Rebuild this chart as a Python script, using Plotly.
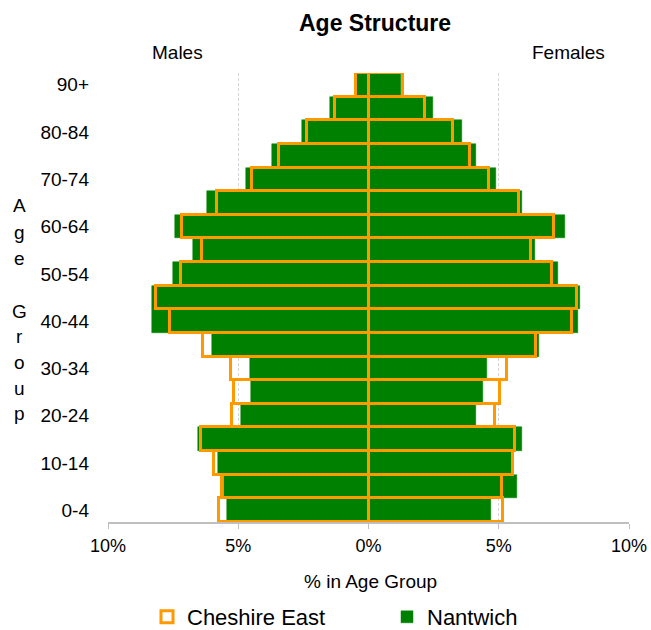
import plotly.graph_objects as go

# ---- data ----
age_groups = ["0-4", "5-9", "10-14", "15-19", "20-24", "25-29", "30-34", "35-39",
              "40-44", "45-49", "50-54", "55-59", "60-64", "65-69", "70-74",
              "75-79", "80-84", "85-89", "90+"]
tick_groups = ["0-4", "10-14", "20-24", "30-34", "40-44", "50-54", "60-64", "70-74", "80-84", "90+"]

nantwich_males = [5.42, 5.54, 5.79, 6.54, 4.91, 4.51, 4.56, 6.02, 8.33, 8.33,
                  7.51, 6.73, 7.41, 6.19, 4.69, 3.69, 2.56, 1.47, 0.45]
nantwich_females = [4.72, 5.69, 5.50, 5.88, 4.13, 4.38, 4.55, 6.53, 8.05, 8.10,
                    7.26, 6.41, 7.54, 5.90, 4.90, 4.13, 3.59, 2.46, 1.25]
cheshire_males = [5.74, 5.62, 5.93, 6.42, 5.23, 5.17, 5.28, 6.36, 7.63, 8.14,
                  7.20, 6.41, 7.15, 5.82, 4.46, 3.43, 2.38, 1.27, 0.49]
cheshire_females = [5.18, 5.13, 5.54, 5.63, 4.85, 5.03, 5.31, 6.44, 7.80, 7.99,
                    7.05, 6.25, 7.12, 5.77, 4.64, 3.91, 3.23, 2.17, 1.33]

x_tickvals = [-10, -5, 0, 5, 10]
x_ticktext = ["10%", "5%", "0%", "5%", "10%"]

GREEN = "#008000"
ORANGE = "#ff9900"
FONT = "Liberation Sans, Arial, sans-serif"

W, H = 651, 630
L, R, T, B = 108, 22, 73, 108


def px_x(x):
    return (x - L) / (W - L - R)


def px_y(y):
    return (H - B - y) / (H - T - B)


fig = go.Figure()

fig.add_trace(go.Bar(y=age_groups, x=[-v for v in nantwich_males], orientation="h",
                     name="Nantwich", legendgroup="n", legendrank=2,
                     marker=dict(color=GREEN, line=dict(color=GREEN, width=0.5)),
                     width=1, customdata=nantwich_males,
                     hovertemplate="Males %{y}: %{customdata}%<extra>Nantwich</extra>"))
fig.add_trace(go.Bar(y=age_groups, x=nantwich_females, orientation="h",
                     name="Nantwich", legendgroup="n", showlegend=False,
                     marker=dict(color=GREEN, line=dict(color=GREEN, width=0.5)),
                     width=1,
                     hovertemplate="Females %{y}: %{x}%<extra>Nantwich</extra>"))
fig.add_trace(go.Bar(y=age_groups, x=[-v for v in cheshire_males], orientation="h",
                     name="Cheshire East", legendgroup="c", legendrank=1,
                     marker=dict(color="rgba(0,0,0,0)", line=dict(color=ORANGE, width=3)),
                     width=1, customdata=cheshire_males,
                     hovertemplate="Males %{y}: %{customdata}%<extra>Cheshire East</extra>"))
fig.add_trace(go.Bar(y=age_groups, x=cheshire_females, orientation="h",
                     name="Cheshire East", legendgroup="c", showlegend=False,
                     marker=dict(color="rgba(0,0,0,0)", line=dict(color=ORANGE, width=3)),
                     width=1,
                     hovertemplate="Females %{y}: %{x}%<extra>Cheshire East</extra>"))

annotations = [
    dict(text="<b>Age Structure</b>", x=px_x(375), y=px_y(23), font=dict(size=23, color="black")),
    dict(text="Males", x=px_x(177), y=px_y(53), font=dict(size=19, color="black")),
    dict(text="Females", x=px_x(568), y=px_y(53), font=dict(size=19, color="black")),
    dict(text="% in Age Group", x=px_x(370), y=px_y(581), font=dict(size=19, color="black")),
]
letters = [("A", 206), ("g", 232), ("e", 258), ("G", 311), ("r", 336), ("o", 362), ("u", 388), ("p", 413)]
for ch, yy in letters:
    annotations.append(dict(text=ch, x=px_x(19), y=px_y(yy), font=dict(size=19, color="black")))
for a in annotations:
    a.update(xref="paper", yref="paper", showarrow=False, xanchor="center", yanchor="middle")

fig.update_layout(
    width=W, height=H,
    margin=dict(l=L, r=R, t=T, b=B, pad=0, autoexpand=False),
    paper_bgcolor="white", plot_bgcolor="white",
    font=dict(family=FONT, color="black"),
    barmode="overlay", bargap=0,
    showlegend=True,
    legend=dict(orientation="h", xref="container", yref="container",
                x=147 / W, y=(H - 617) / H, xanchor="left", yanchor="middle",
                font=dict(size=22, color="black"), entrywidth=195, entrywidthmode="pixels",
                bgcolor="rgba(0,0,0,0)"),
    annotations=annotations,
)

fig.update_xaxes(range=[-10, 10], tickvals=x_tickvals, ticktext=x_ticktext,
                 showgrid=True, gridcolor="#d6d6d6", griddash="3px,2px", gridwidth=1,
                 zeroline=False, showline=True, linecolor="#bfbfbf", linewidth=1.5,
                 ticks="outside", ticklen=5, tickcolor="#bfbfbf", ticklabelstandoff=2,
                 tickfont=dict(size=18, color="black"), fixedrange=True, automargin=False)
fig.update_yaxes(type="category", categoryorder="array", categoryarray=age_groups,
                 range=[-0.5, 18.5], tickvals=tick_groups, ticktext=tick_groups,
                 showgrid=False, zeroline=False, showline=False, ticks="",
                 ticklabelstandoff=18, tickfont=dict(size=19, color="black"),
                 fixedrange=True, automargin=False)

fig.write_html("out.html", config={"displayModeBar": False},
               post_script="document.body.style.margin='0';document.body.style.overflow='hidden';")
